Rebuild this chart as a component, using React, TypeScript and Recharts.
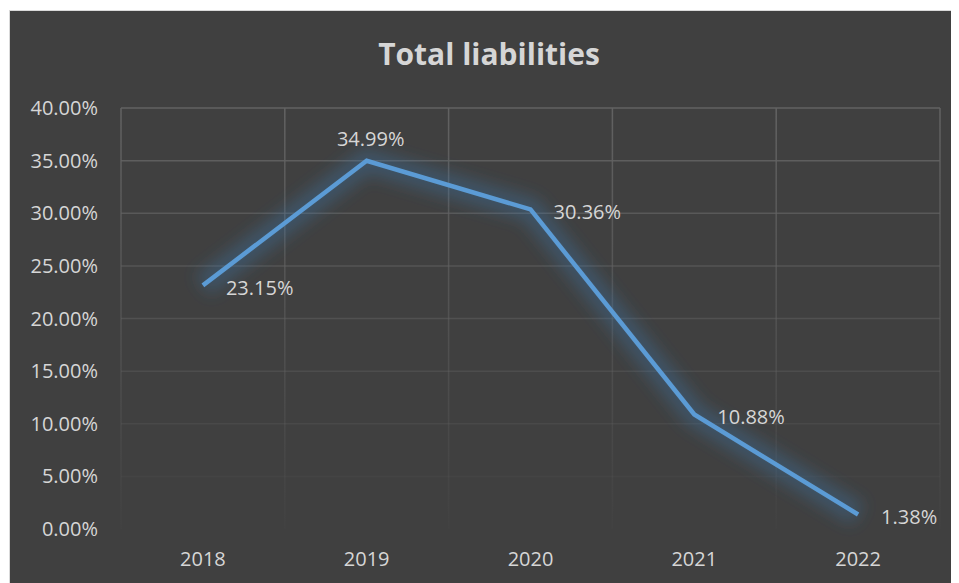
import React from 'react';
import { LineChart, Line, XAxis, YAxis, CartesianGrid, LabelList } from 'recharts';

const years = ['2018', '2019', '2020', '2021', '2022'];
const liabilities = [23.15, 34.99, 30.36, 10.88, 1.38];
const yTicks = [0, 5, 10, 15, 20, 25, 30, 35, 40];
const titleText = 'Total liabilities';

const data = years.map((y, i) => ({ year: y, value: liabilities[i] }));

const FONT = '"Open Sans", sans-serif';
const TEXT = '#d6d6d6';
const GRID = '#626262';
const LINE = '#5B9BD5';

const fmt = (v: number) => `${Number(v).toFixed(2)}%`;

const HLine = (props: any) => {
  const { x1, x2, y1, y2, y, height } = props;
  let op = 1;
  if (typeof y === 'number' && typeof height === 'number' && height > 0) {
    op = Math.max(0.05, (y + height - y1) / height);
  }
  return <line key={props.key ?? `h-${y1}`} x1={x1} x2={x2} y1={y1} y2={y2} stroke={GRID} strokeWidth={1.5} strokeOpacity={op} />;
};

const VLine = (props: any) => {
  const { x1, y1, y2 } = props;
  return <rect key={props.key ?? `v-${x1}`} x={x1 - 0.75} y={Math.min(y1, y2)} width={1.5} height={Math.abs(y2 - y1)} fill="url(#vfade)" />;
};

const renderLabel = (props: any) => {
  const { x, y, value, index } = props;
  if (index === 1) {
    return (
      <text x={x + 4} y={y - 22} textAnchor="middle" dominantBaseline="central" fill={TEXT} fontSize={20} fontFamily={FONT}>
        {fmt(value)}
      </text>
    );
  }
  return (
    <text x={x + 23} y={y + 2} textAnchor="start" dominantBaseline="central" fill={TEXT} fontSize={20} fontFamily={FONT}>
      {fmt(value)}
    </text>
  );
};

export default function App() {
  const W = 950;
  const H = 573;
  return (
    <div style={{ marginLeft: 1, marginTop: 2, position: 'relative', width: W, height: H, background: '#404040', borderTop: '1px solid #d9d9d9', borderLeft: '1px solid #d9d9d9' }}>
      <svg width={0} height={0} style={{ position: 'absolute' }}>
        <defs>
          <linearGradient id="vfade" x1="0" y1="0" x2="0" y2="1">
            <stop offset="0%" stopColor={GRID} stopOpacity={1} />
            <stop offset="100%" stopColor={GRID} stopOpacity={0.05} />
          </linearGradient>
          <filter id="glow" x="-20%" y="-20%" width="140%" height="140%">
            <feGaussianBlur stdDeviation="8" />
          </filter>
        </defs>
      </svg>
      <LineChart width={W} height={H} data={data} margin={{ top: 97, right: 20, left: 0, bottom: 0 }}>
        <CartesianGrid
          horizontal={HLine}
          vertical={VLine}
          verticalCoordinatesGenerator={({ offset }: any) => {
            const pts: number[] = [];
            for (let i = 0; i <= years.length; i++) pts.push(offset.left + (i * offset.width) / years.length);
            return pts;
          }}
        />
        <XAxis
          dataKey="year"
          scale="band"
          axisLine={false}
          tickLine={false}
          tickSize={0}
          tickMargin={23}
          height={55}
          tick={{ fill: TEXT, fontSize: 20, fontFamily: FONT }}
        />
        <YAxis
          domain={[0, 40]}
          ticks={yTicks}
          tickFormatter={fmt}
          axisLine={false}
          tickLine={false}
          tickSize={0}
          tickMargin={23}
          width={111}
          tick={{ fill: TEXT, fontSize: 20, fontFamily: FONT }}
        />
        <Line
          dataKey="value"
          stroke="#3f78b0"
          strokeWidth={24}
          strokeOpacity={0.35}
          dot={false}
          activeDot={false}
          filter="url(#glow)"
          isAnimationActive={false}
        />
        <Line
          dataKey="value"
          stroke={LINE}
          strokeWidth={4.5}
          dot={false}
          activeDot={false}
          isAnimationActive={false}
        >
          <LabelList dataKey="value" content={renderLabel} />
        </Line>
      </LineChart>
      <svg width={W} height={90} style={{ position: 'absolute', left: 0, top: 0, pointerEvents: 'none' }}>
        <text x={479} y={54} textAnchor="middle" fill={TEXT} fontSize={30} fontWeight="bold" fontFamily={FONT}>
          {titleText}
        </text>
      </svg>
    </div>
  );
}
